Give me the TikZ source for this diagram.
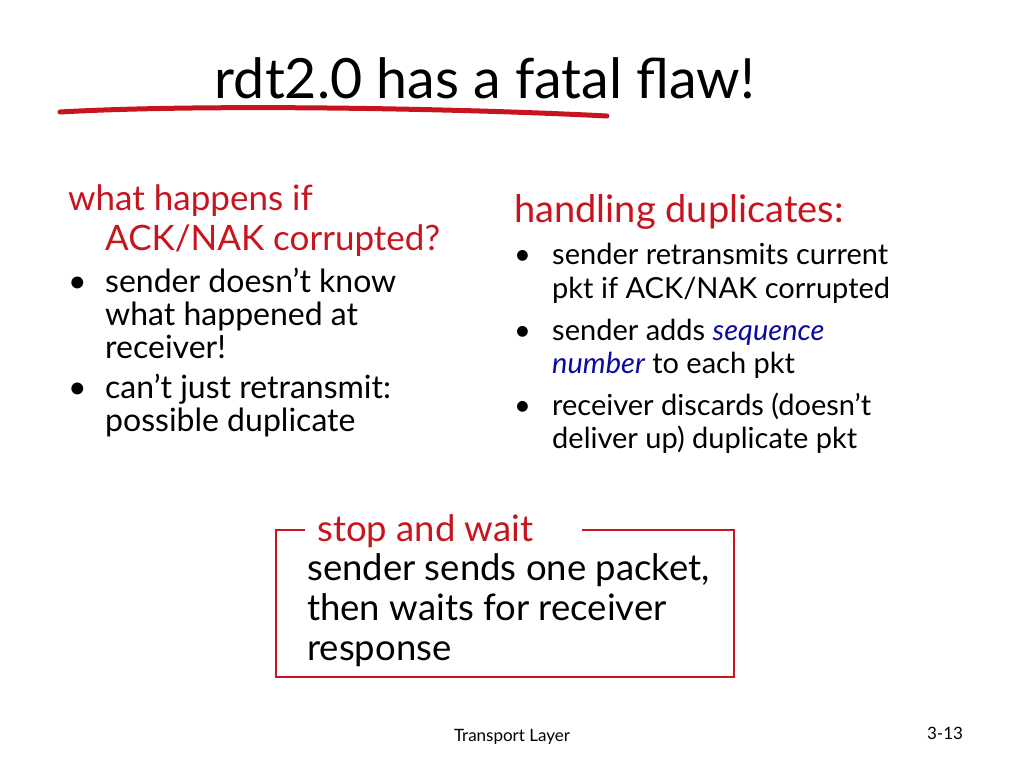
\documentclass[tikz,border=0pt]{standalone}
\usepackage{fontspec}
\setmainfont{Lato}
\definecolor{rd}{RGB}{200,20,30}
\definecolor{bl}{RGB}{10,10,160}
\begin{document}
\begin{tikzpicture}[x=1pt,y=-1pt,
 t/.style={anchor=base west,inner sep=0pt,font=\fontsize{32}{32}\selectfont},
 tred/.style={anchor=base west,inner sep=0pt,font=\fontsize{35}{35}\selectfont,rd},
 tr/.style={anchor=base west,inner sep=0pt,font=\fontsize{29}{29}\selectfont},
 tb/.style={anchor=base west,inner sep=0pt,font=\fontsize{36.5}{36.5}\selectfont}]
\useasboundingbox (0,0) rectangle (1024,768);
\node[anchor=base,inner sep=0pt,font=\fontsize{55.5}{55.5}\selectfont] (title) at (485,98) {rdt2.0 has a fatal flaw!};
\draw[rd,line width=5pt,line cap=round] (60,112) .. controls (200,104) and (450,108) .. (607,116);
% left
\node[tred] (l1) at (68,210) {what happens if};
\node[tred] (l2) at (105,250) {ACK/NAK corrupted?};
\node[t] (b1) at (68,292) {•};
\node[t] (l3) at (105,292) {sender doesn’t know};
\node[t] (l4) at (105,325) {what happened at};
\node[t] (l5) at (105,358) {receiver!};
\node[t] (b2) at (68,398) {•};
\node[t] (l6) at (105,398) {can’t just retransmit:};
\node[t] (l7) at (105,431) {possible duplicate};
% right
\node[anchor=base west,inner sep=0pt,font=\fontsize{38}{38}\selectfont,rd] (r0) at (514,222) {handling duplicates:};
\node[tr] (c1) at (514,264) {•};
\node[tr] (r1) at (552,264) {sender retransmits current};
\node[tr] (r2) at (552,298) {pkt if ACK/NAK corrupted};
\node[tr] (c2) at (514,340) {•};
\node[tr] (r3) at (552,340) {sender adds \textcolor{bl}{\itshape sequence}};
\node[tr] (r4) at (552,373) {\textcolor{bl}{\itshape number} to each pkt};
\node[tr] (c3) at (514,415) {•};
\node[tr] (r5) at (552,415) {receiver discards (doesn’t};
\node[tr] (r6) at (552,448) {deliver up) duplicate pkt};
% box
\draw[rd,line width=1.5pt] (305,530) -- (276,530) -- (276,677) -- (734,677) -- (734,530) -- (582,530);
\node[tb,rd] (s0) at (317,541) {stop and wait};
\node[tb] (s1) at (307,580) {sender sends one packet,};
\node[tb] (s2) at (307,620) {then waits for receiver};
\node[tb] (s3) at (307,660) {response};
\node[anchor=base,inner sep=0pt,font=\fontsize{17}{17}\selectfont] (f1) at (512,741) {Transport Layer};
\node[anchor=base,inner sep=0pt,font=\fontsize{17}{17}\selectfont] (f2) at (945,739) {3-13};
\end{tikzpicture}
\end{document}
